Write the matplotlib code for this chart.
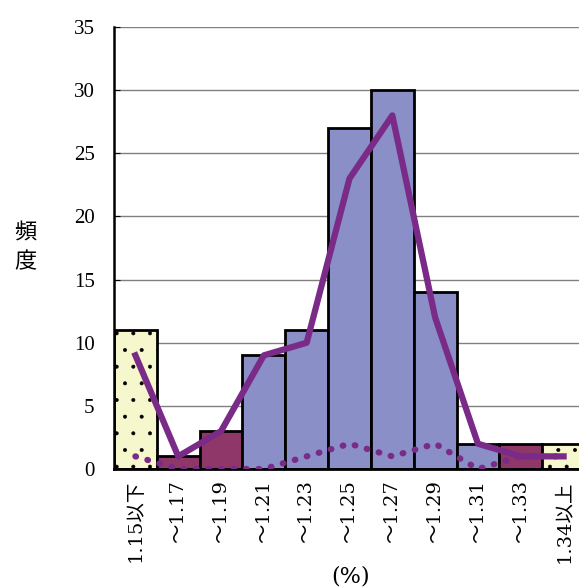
import matplotlib.pyplot as plt

plt.rcParams['font.family'] = ['Liberation Serif', 'Noto Sans CJK JP']
plt.rcParams['hatch.linewidth'] = 0.4
plt.rcParams['hatch.color'] = '#303030'

# categories and values
labels = ['1.15以下', '～1.17', '～1.19', '～1.21', '～1.23', '～1.25',
          '～1.27', '～1.29', '～1.31', '～1.33', '1.34以上']
counts = [11, 1, 3, 9, 11, 27, 30, 14, 2, 2, 2]
line_solid = [9, 1, 3, 9, 10, 23, 28, 12, 2, 1, 1]
line_dotted = [1, 0, 0, 0, 1, 2, 1, 2, 0, 1, 1]
bar_kind = ['edge', 'low', 'low', 'mid', 'mid', 'mid', 'mid', 'mid', 'mid', 'low', 'edge']

colors = {'edge': '#F7F7CE', 'low': '#8E3768', 'mid': '#8A8FC8'}

fig = plt.figure(figsize=(5.79, 5.88), dpi=100)
ax = fig.add_axes([114 / 579, 119 / 588, 471 / 579, 442 / 588])

x = list(range(len(labels)))
for i, (c, k) in enumerate(zip(counts, bar_kind)):
    ax.bar(i, c, width=1.0, color=colors[k], edgecolor='black', linewidth=2,
           hatch='.' if k == 'edge' else None, zorder=2)

ax.plot(x, line_solid, color='#7A2B87', linewidth=4.5, zorder=4)
ax.plot(x, line_dotted, color='#7A2B87', linewidth=4.5, linestyle=(0, (0.1, 1.9)),
        dash_capstyle='round', zorder=3)

ax.set_xlim(-0.5, 10.5)
ax.set_ylim(0, 35)
ax.set_yticks(range(0, 36, 5))
ax.yaxis.grid(True, color='#808080', linewidth=1, zorder=0)
ax.set_axisbelow(True)

ax.set_xticks(x)
ax.set_xticklabels(labels, rotation=90, fontsize=14,
                   family=['DejaVu Serif', 'Noto Sans CJK JP'])
ax.tick_params(axis='x', length=0, pad=8)
ax.tick_params(axis='y', direction='in', length=4, labelsize=15, pad=14)

for s in ['top', 'right']:
    ax.spines[s].set_visible(False)
ax.spines['left'].set_linewidth(1.8)
ax.spines['bottom'].set_linewidth(2)

fig.text(25 / 579, 1 - 249 / 588, '頻\n度', fontsize=16, ha='center', va='center',
         linespacing=1.5)
fig.text(351 / 579, 1 - 576 / 588, '(%)', fontsize=16, ha='center', va='center',
         family='DejaVu Serif')

fig.savefig('out.png', dpi=100)
